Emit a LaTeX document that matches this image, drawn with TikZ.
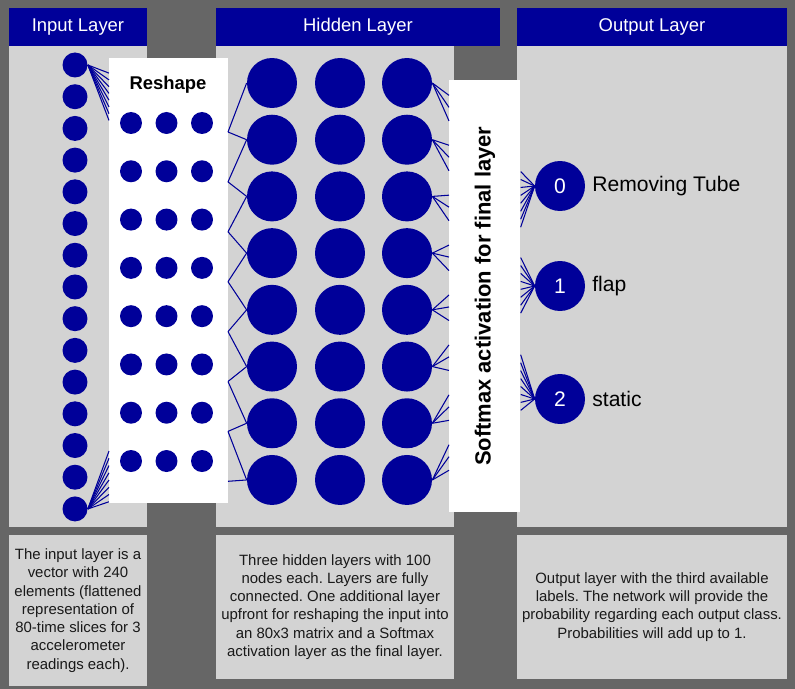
\documentclass[tikz,border=0pt]{standalone}
\usepackage{fontspec}
\setmainfont{Liberation Sans}
\usetikzlibrary{calc}
\frenchspacing

\definecolor{netblue}{HTML}{000099}
\definecolor{panelgray}{HTML}{D3D3D3}
\definecolor{backgray}{HTML}{666666}

\tikzset{
    inunit/.style={circle, fill=netblue, inner sep=0pt, minimum size=0.5cm},
    rsunit/.style={circle, fill=netblue, inner sep=0pt, minimum size=0.44cm},
    hidunit/.style={circle, fill=netblue, inner sep=0pt, minimum size=1cm},
    outunit/.style={circle, fill=netblue, inner sep=0pt, minimum size=1cm, text=white, font=\fontsize{12}{14}\selectfont},
    link/.style={draw=netblue, line width=0.6pt},
    title/.style={text=white, font=\fontsize{10.5}{12}\selectfont},
    note/.style={align=center, inner sep=0pt, text=black!90, font=\fontsize{8.5}{10.4}\selectfont},
    whitebox/.style={fill=white, inner sep=0pt, anchor=north west},
}

\begin{document}
\begin{tikzpicture}[x=0.02cm, y=-0.02cm]

    \useasboundingbox (0,0) rectangle (795,689);
    \fill[backgray] (0,0) rectangle (795,689);

    % panels and headers
    \fill[panelgray] (9,46) rectangle (147,527);
    \fill[panelgray] (216,46) rectangle (454,527);
    \fill[panelgray] (517,46) rectangle (787,527);
    \fill[netblue] (9,8) rectangle (147,46);
    \fill[netblue] (216,8) rectangle (500,46);
    \fill[netblue] (517,8) rectangle (787,46);
    \node[title] (t-in) at (78,27) {Input Layer};
    \node[title] (t-hid) at (358,27) {Hidden Layer};
    \node[title] (t-out) at (652,27) {Output Layer};

    % white boxes
    \node[whitebox, minimum width=2.38cm, minimum height=8.9cm] (reshape) at (109,58) {};
    \node[whitebox, minimum width=1.42cm, minimum height=8.64cm] (softmax) at (449,80) {};
    \node[font=\bfseries\fontsize{10.5}{12}\selectfont] (reshape-label) at (168,85) {Reshape};
    \node[rotate=90, font=\bfseries\fontsize{12.5}{14}\selectfont] (softmax-label) at (softmax.center) {Softmax activation for final layer};

    % units
    \foreach \i in {1,...,15}
        \node[inunit] (in-\i) at (75, {65+31.71*(\i-1)}) {};
    \foreach \r in {1,...,8}
        \foreach \c in {1,2,3}
            \node[rsunit] (rs-\r-\c) at ({131+35.5*(\c-1)}, {123+48.29*(\r-1)}) {};
    \foreach \c/\x in {1/272, 2/340, 3/407}
        \foreach \r in {1,...,8}
            \node[hidunit] (h-\r-\c) at (\x, {83+56.71*(\r-1)}) {};
    \foreach \j/\y/\lbl in {0/186/Removing Tube, 1/286/flap, 2/399/static} {
        \node[outunit] (out-\j) at (560,\y) {\j};
        \node[anchor=west, inner sep=0pt, font=\fontsize{12}{14}\selectfont] (lbl-\j) at (592,\y) {\lbl};
    }

    % fans into the reshape box
    \foreach \r in {1,...,8} {
        \coordinate (aim) at ($(in-1.east)!0.14!(rs-\r-1)$);
        \coordinate (fan-top-\r) at (reshape.west |- aim);
        \draw[link] (in-1.east) -- (fan-top-\r);
        \coordinate (aim) at ($(in-15.east)!0.15!(rs-\r-1)$);
        \coordinate (fan-bot-\r) at (reshape.west |- aim);
        \draw[link] (in-15.east) -- (fan-bot-\r);
    }

    % reshape box to first hidden column
    \foreach \r in {1,...,8} {
        \coordinate (hv-\r) at (228, {132+49.9*(\r-1)});
        \draw[link] (hv-\r) -- (h-\r-1.west);
    }
    \foreach \r [evaluate=\r as \s using int(\r+1)] in {1,...,7}
        \draw[link] (hv-\r) -- (h-\s-1.west);

    % last hidden column and outputs, through the softmax box
    \foreach \r in {1,...,8}
        \foreach \j in {0,1,2} {
            \coordinate (aim) at ($(h-\r-3.east)!0.12!(out-\j)$);
            \coordinate (sm-in-\r-\j) at (softmax.west |- aim);
            \draw[link] (h-\r-3.east) -- (sm-in-\r-\j);
            \coordinate (aim) at ($(out-\j.west)!0.14!(h-\r-3)$);
            \coordinate (sm-out-\r-\j) at (softmax.east |- aim);
            \draw[link] (sm-out-\r-\j) -- (out-\j.west);
        }

    % notes
    \fill[panelgray] (9,535) rectangle (147,686);
    \fill[panelgray] (216,535) rectangle (454,679);
    \fill[panelgray] (517,535) rectangle (787,679);
    \node[note] (n-in) at (78,610.5) {The input layer is a\\vector with 240\\elements (flattened\\representation of\\80-time slices for 3\\accelerometer\\readings each).};
    \node[note] (n-hid) at (335,607) {Three hidden layers with 100\\nodes each. Layers are fully\\connected. One additional layer\\upfront for reshaping the input into\\an 80x3 matrix and a Softmax\\activation layer as the final layer.};
    \node[note] (n-out) at (652,607) {Output layer with the third available\\labels. The network will provide the\\probability regarding each output class.\\Probabilities will add up to 1.};

\end{tikzpicture}
\end{document}
